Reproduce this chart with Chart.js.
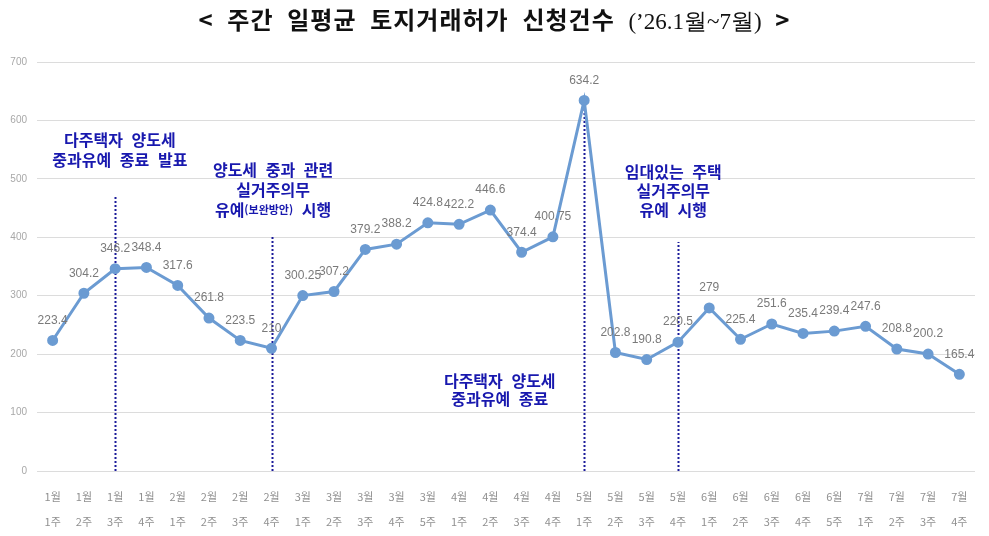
<!DOCTYPE html>
<html lang="ko">
<head>
    <meta charset="UTF-8">
    <title>주간 일평균 토지거래허가 신청건수</title>
    <script src="https://cdn.jsdelivr.net/npm/chart.js"></script>
    <style>
        html, body {
            margin: 0;
            padding: 0;
            background: #ffffff;
        }
        .wrap {
            position: relative;
            width: 989px;
            height: 536px;
        }
        .chart-title {
            position: absolute;
            top: 1px;
            left: 0;
            width: 989px;
            text-align: center;
            font-family: "Noto Sans CJK KR", sans-serif;
            font-weight: bold;
            font-size: 24px;
            letter-spacing: 1px;
            word-spacing: 6px;
            color: #111;
            white-space: pre;
            z-index: 2;
        }
        .chart-title .sub {
            font-family: "Liberation Serif", serif;
            font-weight: normal;
            font-size: 23px;
            letter-spacing: 0;
            word-spacing: 0;
        }
        #chart {
            position: absolute;
            top: 0;
            left: 0;
        }
    </style>
</head>
<body>
    <div class="wrap">
        <div class="chart-title">&lt; 주간 일평균 토지거래허가 신청건수 <span class="sub">(’26.1월~7월)</span> &gt;</div>
        <canvas id="chart" width="989" height="536"></canvas>
    </div>

    <script>
        // weeks (month / week) and weekly average applications
        const months = ['1월','1월','1월','1월','2월','2월','2월','2월','3월','3월','3월','3월','3월',
                        '4월','4월','4월','4월','5월','5월','5월','5월','6월','6월','6월','6월','6월',
                        '7월','7월','7월','7월'];
        const weeks = ['1주','2주','3주','4주','1주','2주','3주','4주','1주','2주','3주','4주','5주',
                       '1주','2주','3주','4주','1주','2주','3주','4주','1주','2주','3주','4주','5주',
                       '1주','2주','3주','4주'];
        const applications = [223.4, 304.2, 346.2, 348.4, 317.6, 261.8, 223.5, 210,
                              300.25, 307.2, 379.2, 388.2, 424.8,
                              422.2, 446.6, 374.4, 400.75,
                              634.2, 202.8, 190.8, 220.5,
                              279, 225.4, 251.6, 235.4, 239.4,
                              247.6, 208.8, 200.2, 165.4];
        const yTicks = [0, 100, 200, 300, 400, 500, 600, 700];

        // policy events: week index of the dotted marker and how high it reaches
        const eventWeeks = [2, 7, 17, 20];
        const eventTops = [469, 404, 634.2, 392];

        const labels = months.map((m, i) => [m, weeks[i]]);

        const BLUE_TEXT = '#1818ae';
        const KFONT = '"Noto Sans CJK KR", sans-serif';

        // annotation text blocks, anchored in data space (week index, value)
        const notes = [
            { x: 2.15, y: [567, 532], lines: [
                [['다주택자 양도세', 16]],
                [['중과유예 종료 발표', 16]]
            ]},
            { x: 7.05, y: [515, 481, 447], lines: [
                [['양도세 중과 관련', 16]],
                [['실거주의무', 16]],
                [['유예', 16], ['(보완방안)', 11], [' 시행', 16]]
            ]},
            { x: 14.3, y: [154, 123], lines: [
                [['다주택자 양도세', 16]],
                [['중과유예 종료', 16]]
            ]},
            { x: 19.85, y: [512, 479, 447], lines: [
                [['임대있는 주택', 16]],
                [['실거주의무', 16]],
                [['유예 시행', 16]]
            ]}
        ];

        const eventPlugin = {
            id: 'events',
            beforeDatasetsDraw(chart) {
                const { ctx, scales: { x, y } } = chart;
                ctx.save();
                ctx.strokeStyle = '#1b1b9a';
                ctx.lineWidth = 2;
                ctx.setLineDash([2, 2]);
                eventWeeks.forEach((w, i) => {
                    const px = Math.round(x.getPixelForValue(w)) + 0.5;
                    ctx.beginPath();
                    ctx.moveTo(px, y.getPixelForValue(0));
                    ctx.lineTo(px, y.getPixelForValue(eventTops[i]));
                    ctx.stroke();
                });
                ctx.restore();
            },
            afterDatasetsDraw(chart) {
                const { ctx, scales: { x, y } } = chart;
                const meta = chart.getDatasetMeta(0);

                // value labels above points
                ctx.save();
                ctx.fillStyle = '#7a7a7a';
                ctx.font = '12px "Liberation Sans Narrow", "Liberation Sans", sans-serif';
                ctx.textAlign = 'center';
                ctx.textBaseline = 'middle';
                meta.data.forEach((pt, i) => {
                    ctx.fillText(String(applications[i]), pt.x, pt.y - 20);
                });

                // policy notes
                ctx.fillStyle = BLUE_TEXT;
                ctx.textAlign = 'left';
                ctx.wordSpacing = '5px';
                notes.forEach(n => {
                    const cx = x.getPixelForValue(n.x);
                    n.lines.forEach((segs, li) => {
                        let total = 0;
                        segs.forEach(([t, s]) => {
                            ctx.font = 'bold ' + s + 'px ' + KFONT;
                            total += ctx.measureText(t).width;
                        });
                        let px = cx - total / 2;
                        const py = y.getPixelForValue(n.y[li]);
                        segs.forEach(([t, s]) => {
                            ctx.font = 'bold ' + s + 'px ' + KFONT;
                            ctx.fillText(t, px, py);
                            px += ctx.measureText(t).width;
                        });
                    });
                });
                ctx.restore();
            }
        };

        new Chart(document.getElementById('chart'), {
            type: 'line',
            data: {
                labels: labels,
                datasets: [{
                    data: applications,
                    borderColor: '#6b9bd2',
                    backgroundColor: '#6b9bd2',
                    borderWidth: 3,
                    pointRadius: 4,
                    pointHoverRadius: 4,
                    tension: 0
                }]
            },
            options: {
                responsive: false,
                animation: false,
                layout: { padding: { top: 62, right: 14, left: 0, bottom: 0 } },
                plugins: {
                    legend: { display: false },
                    tooltip: { enabled: false }
                },
                scales: {
                    x: {
                        offset: true,
                        grid: { display: false, drawTicks: false },
                        border: { display: false },
                        ticks: {
                            color: '#909090',
                            font: { family: KFONT, size: 11, lineHeight: 2.3 },
                            padding: 13,
                            maxRotation: 0,
                            autoSkip: false
                        },
                        afterFit(scale) { scale.height = 65; }
                    },
                    y: {
                        min: 0,
                        max: 700,
                        afterBuildTicks(scale) {
                            scale.ticks = yTicks.map(v => ({ value: v }));
                        },
                        grid: { color: '#dcdcdc', lineWidth: 1, drawTicks: false },
                        border: { display: false },
                        ticks: {
                            color: '#a8a8a8',
                            font: { family: '"Liberation Sans", sans-serif', size: 10 },
                            padding: 10
                        },
                        afterFit(scale) { scale.width = 37; }
                    }
                }
            },
            plugins: [eventPlugin]
        });
    </script>
</body>
</html>
